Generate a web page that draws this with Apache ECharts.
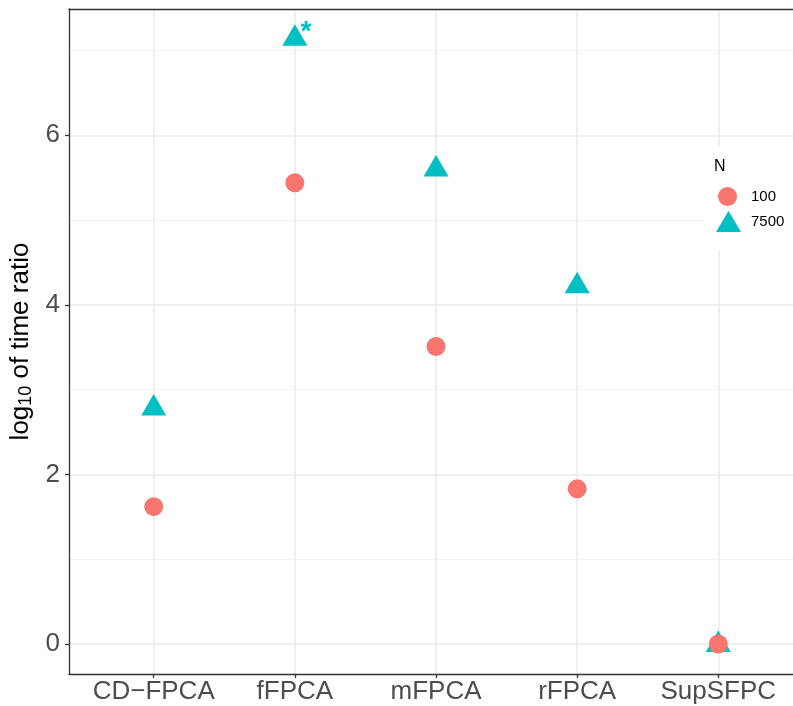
<!DOCTYPE html>
<html>
<head>
<meta charset="utf-8">
<script src="https://cdn.jsdelivr.net/npm/echarts@6/dist/echarts.min.js"></script>
<style>
html,body{margin:0;padding:0;background:#fff;}
#chart{width:793px;height:706px;}
</style>
</head>
<body>
<div id="chart"></div>
<script>
var categories = ['CD\u2212FPCA', 'fFPCA', 'mFPCA', 'rFPCA', 'SupSFPC'];
var values100 = [1.62, 5.44, 3.51, 1.83, 0.0];
var values7500 = [2.78, 7.14, 5.60, 4.22, -0.01];
var annot7500 = ['', '*', '', '', ''];
var yMajorTicks = [0, 2, 4, 6];
var yMinorTicks = [1, 3, 5, 7];
var xTicks = [0, 1, 2, 3, 4];

var FONT = '"Liberation Sans", Arial, Helvetica, sans-serif';
var C100 = '#F8766D', C7500 = '#00BFC4';
var yMin = -0.354, yMax = 7.49;

var chart = echarts.init(document.getElementById('chart'), null, {renderer: 'canvas'});
chart.setOption({
  backgroundColor: '#ffffff',
  animation: false,
  textStyle: {fontFamily: FONT},
  title: {
    text: 'N',
    left: 704, top: 147,
    padding: [12, 70, 75, 10],
    backgroundColor: '#ffffff',
    z: 3,
    textStyle: {fontFamily: FONT, fontSize: 16, fontWeight: 'normal', color: '#000'}
  },
  legend: [{
    data: [{name: '100', icon: 'circle'}],
    left: 718, top: 187, padding: 0, z: 5,
    itemWidth: 19, itemHeight: 19,
    textStyle: {fontFamily: FONT, fontSize: 15, color: '#000', padding: [0, 0, 0, 9]}
  }, {
    data: [{name: '7500', icon: 'triangle'}],
    left: 716, top: 211, padding: 0, z: 5,
    itemWidth: 25, itemHeight: 21,
    textStyle: {fontFamily: FONT, fontSize: 15, color: '#000', padding: [0, 0, 0, 5]}
  }],
  grid: {
    left: 69, top: 9, width: 734, height: 665,
    containLabel: false, outerBoundsMode: 'none',
    show: false
  },
  xAxis: [{
    type: 'value', min: -0.6, max: 4.6,
    axisLine: {show: true, onZero: false, lineStyle: {color: '#333333', width: 1.3}},
    axisTick: {show: true, length: 4, customValues: xTicks, lineStyle: {color: '#333333', width: 1.3}},
    axisLabel: {show: true, customValues: xTicks, margin: 5, color: '#4D4D4D', fontSize: 26, fontFamily: FONT,
      formatter: function (v) { return categories[Math.round(v)] || ''; }},
    splitLine: {show: true, lineStyle: {color: '#EBEBEB', width: 1.6}}
  }, {
    type: 'value', min: -0.6, max: 4.6, position: 'top',
    axisLine: {show: true, onZero: false, lineStyle: {color: '#333333', width: 1.3}},
    axisTick: {show: false}, axisLabel: {show: false}, splitLine: {show: false}
  }],
  yAxis: [{
    type: 'value', min: yMin, max: yMax,
    name: '{a|log}{b|10}{a| of time ratio}',
    nameLocation: 'middle', nameRotate: 90, nameGap: 29,
    nameTextStyle: {
      rich: {
        a: {fontFamily: FONT, fontSize: 26, color: '#000'},
        b: {fontFamily: FONT, fontSize: 18, color: '#000', verticalAlign: 'bottom', padding: [10, 0, 0, 0]}
      }
    },
    axisLine: {show: true, onZero: false, lineStyle: {color: '#333333', width: 1.3}},
    axisTick: {show: true, length: 4, customValues: yMajorTicks, lineStyle: {color: '#333333', width: 1.3}},
    axisLabel: {show: true, customValues: yMajorTicks, margin: 9, color: '#4D4D4D', fontSize: 26, fontFamily: FONT},
    splitLine: {show: true, lineStyle: {color: '#EBEBEB', width: 1.6}}
  }, {
    type: 'value', min: yMin, max: yMax, position: 'left',
    axisLine: {show: false, onZero: false}, axisTick: {show: false, customValues: yMinorTicks},
    axisLabel: {show: false, customValues: yMinorTicks},
    splitLine: {show: true, lineStyle: {color: '#F2F2F2', width: 1}}
  }],
  series: [{
    name: '7500', type: 'scatter', symbol: 'triangle',
    symbolSize: [25, 21.5], symbolOffset: [0, -3.6],
    itemStyle: {color: C7500, opacity: 1},
    data: values7500.map(function (v, i) { return [i, v]; }),
    label: {
      show: true, position: 'inside', offset: [11, -3],
      formatter: function (p) { return annot7500[p.dataIndex]; },
      color: C7500, fontSize: 28, fontWeight: 'bold', fontFamily: FONT
    },
    z: 2
  }, {
    name: '100', type: 'scatter', symbol: 'circle', symbolSize: 19,
    itemStyle: {color: C100, opacity: 1},
    data: values100.map(function (v, i) { return [i, v]; }),
    z: 2
  }]
});
</script>
</body>
</html>
